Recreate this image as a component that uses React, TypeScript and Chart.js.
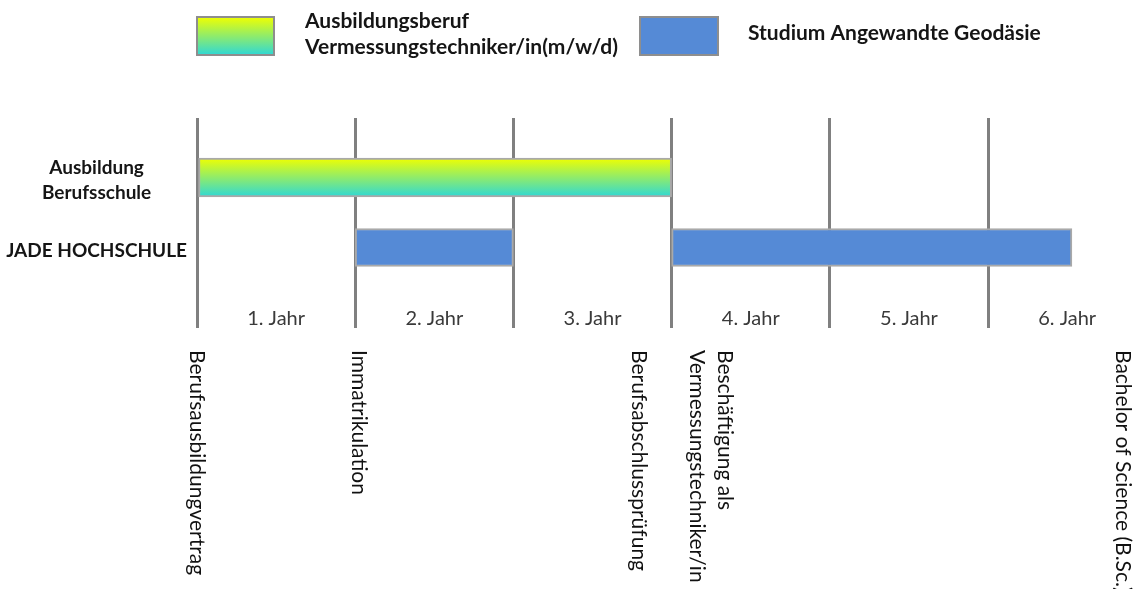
import { useEffect, useRef } from 'react';
import { Chart, registerables } from 'chart.js';

Chart.register(...registerables);

// ---- data ----
const rowLabels: string[][] = [['Ausbildung', 'Berufsschule'], ['JADE HOCHSCHULE']];
const rowPositions = [0.85, 1.85];
const ausbildungSpans: [number, number][] = [[0, 3]];
const studiumSpans: [number, number][] = [[1, 2], [3, 5.53]];
const yearBoundaries = [0, 1, 2, 3, 4, 5];
const yearLabels = ['1. Jahr', '2. Jahr', '3. Jahr', '4. Jahr', '5. Jahr', '6. Jahr'];
const yearLabelRow = 2.865;
const milestoneLabels: string[][] = [
  ['Berufsausbildungvertrag'],
  ['Immatrikulation'],
  ['Berufsabschlussprüfung'],
  ['Beschäftigung als', 'Vermessungstechniker/in'],
  ['Bachelor of Science (B.Sc.)'],
];
const milestonePositions = [0.0, 1.02, 2.795, 3.25, 5.85];
const legendLabels: string[][] = [
  ['Ausbildungsberuf', 'Vermessungstechniker/in(m/w/d)'],
  ['Studium Angewandte Geodäsie'],
];

const FONT = 'Lato, "Open Sans", sans-serif';
const GRAD_TOP = '#f0ff00';
const GRAD_BOTTOM = '#2ed8d6';
const BLUE = '#558ad6';

const overlayPlugin = {
  id: 'overlay',
  afterDraw(chart: any) {
    const c: CanvasRenderingContext2D = chart.ctx;
    const xs = chart.scales.x;
    const ys = chart.scales.y;
    c.save();
    // year labels
    c.font = `20px ${FONT}`;
    c.fillStyle = '#3a3a3a';
    c.textAlign = 'center';
    c.textBaseline = 'middle';
    const yy = ys.getPixelForValue(yearLabelRow);
    yearLabels.forEach((t, i) => {
      c.fillText(t, xs.getPixelForValue(i + 0.5), yy);
    });

    // milestone labels (rotated)
    c.font = `21px ${FONT}`;
    c.fillStyle = '#111111';
    c.textAlign = 'left';
    c.textBaseline = 'middle';
    milestoneLabels.forEach((lines, i) => {
      const x = xs.getPixelForValue(milestonePositions[i]);
      c.save();
      c.translate(x, 350);
      c.rotate(Math.PI / 2);
      const lh = 28;
      lines.forEach((ln, j) => {
        c.fillText(ln, 0, (j - (lines.length - 1) / 2) * lh);
      });
      c.restore();
    });

    // legend
    const g = c.createLinearGradient(0, 17, 0, 55);
    g.addColorStop(0, GRAD_TOP);
    g.addColorStop(1, GRAD_BOTTOM);
    c.fillStyle = g;
    c.fillRect(197, 17, 77, 38);
    c.strokeStyle = '#8e8e8e';
    c.lineWidth = 2;
    c.strokeRect(197, 17, 77, 38);
    c.fillStyle = BLUE;
    c.fillRect(640, 17, 78, 38);
    c.strokeRect(640, 17, 78, 38);

    c.font = `bold 21px ${FONT}`;
    c.fillStyle = '#151515';
    c.textAlign = 'left';
    c.textBaseline = 'middle';
    c.fillText(legendLabels[0][0], 305, 21);
    c.fillText(legendLabels[0][1], 305, 47);
    c.fillText(legendLabels[1][0], 748, 33);
    c.restore();
  },
};

export default function App() {
  const ref = useRef<HTMLCanvasElement>(null);
  useEffect(() => {
    document.body.style.margin = '0';
    const canvas = ref.current!;
    const chart = new Chart(canvas, {
      type: 'bar',
      data: {
        datasets: [
          {
            label: legendLabels[0].join(' '),
            data: ausbildungSpans.map((s) => ({ x: s, y: rowPositions[0] })) as any,
            backgroundColor: (ctx: any) => {
              const ch = ctx.chart;
              const y = ch.scales && ch.scales.y;
              if (!y || !ch.chartArea) return GRAD_TOP;
              const cy = y.getPixelForValue(rowPositions[0]);
              const gr = ch.ctx.createLinearGradient(0, cy - 19.5, 0, cy + 19.5);
              gr.addColorStop(0, GRAD_TOP);
              gr.addColorStop(1, GRAD_BOTTOM);
              return gr;
            },
            borderColor: '#a9a9a9',
            borderWidth: 2,
            borderSkipped: false,
            grouped: false,
            barPercentage: 1,
            categoryPercentage: 1,
            maxBarThickness: 39,
          },
          {
            label: legendLabels[1][0],
            data: studiumSpans.map((s) => ({ x: s, y: rowPositions[1] })) as any,
            backgroundColor: BLUE,
            borderColor: '#a9a9a9',
            borderWidth: 2,
            borderSkipped: false,
            grouped: false,
            barPercentage: 1,
            categoryPercentage: 1,
            maxBarThickness: 38,
          },
        ],
      },
      options: {
        indexAxis: 'y',
        responsive: false,
        animation: false,
        devicePixelRatio: 1,
        layout: { padding: { top: 118, bottom: 261, left: 0, right: 0 } },
        plugins: { legend: { display: false }, tooltip: { enabled: false } },
        scales: {
          x: {
            type: 'linear',
            min: 0,
            max: 5.935,
            z: 1,
            afterBuildTicks: (axis: any) => {
              axis.ticks = yearBoundaries.map((v) => ({ value: v }));
            },
            ticks: { display: false },
            grid: { color: '#808080', lineWidth: 3, drawTicks: false },
            border: { display: false },
          },
          y: {
            type: 'linear',
            min: 0,
            max: 3,
            reverse: true,
            offset: false,
            afterBuildTicks: (axis: any) => {
              axis.ticks = rowPositions.map((v) => ({ value: v }));
            },
            afterFit: (axis: any) => {
              axis.width = 197;
            },
            ticks: {
              crossAlign: 'center',
              padding: 10,
              labelOffset: 3,
              color: '#151515',
              font: { family: FONT, size: 19, weight: 'bold', lineHeight: 1.32 },
              callback: (_v: any, i: number) => rowLabels[i],
            },
            grid: { display: false, drawTicks: false, offset: false },
            border: { display: false },
          },
        },
      } as any,
      plugins: [overlayPlugin],
    });
    return () => chart.destroy();
  }, []);
  return <canvas ref={ref} width={1136} height={589} style={{ display: 'block' }} />;
}
